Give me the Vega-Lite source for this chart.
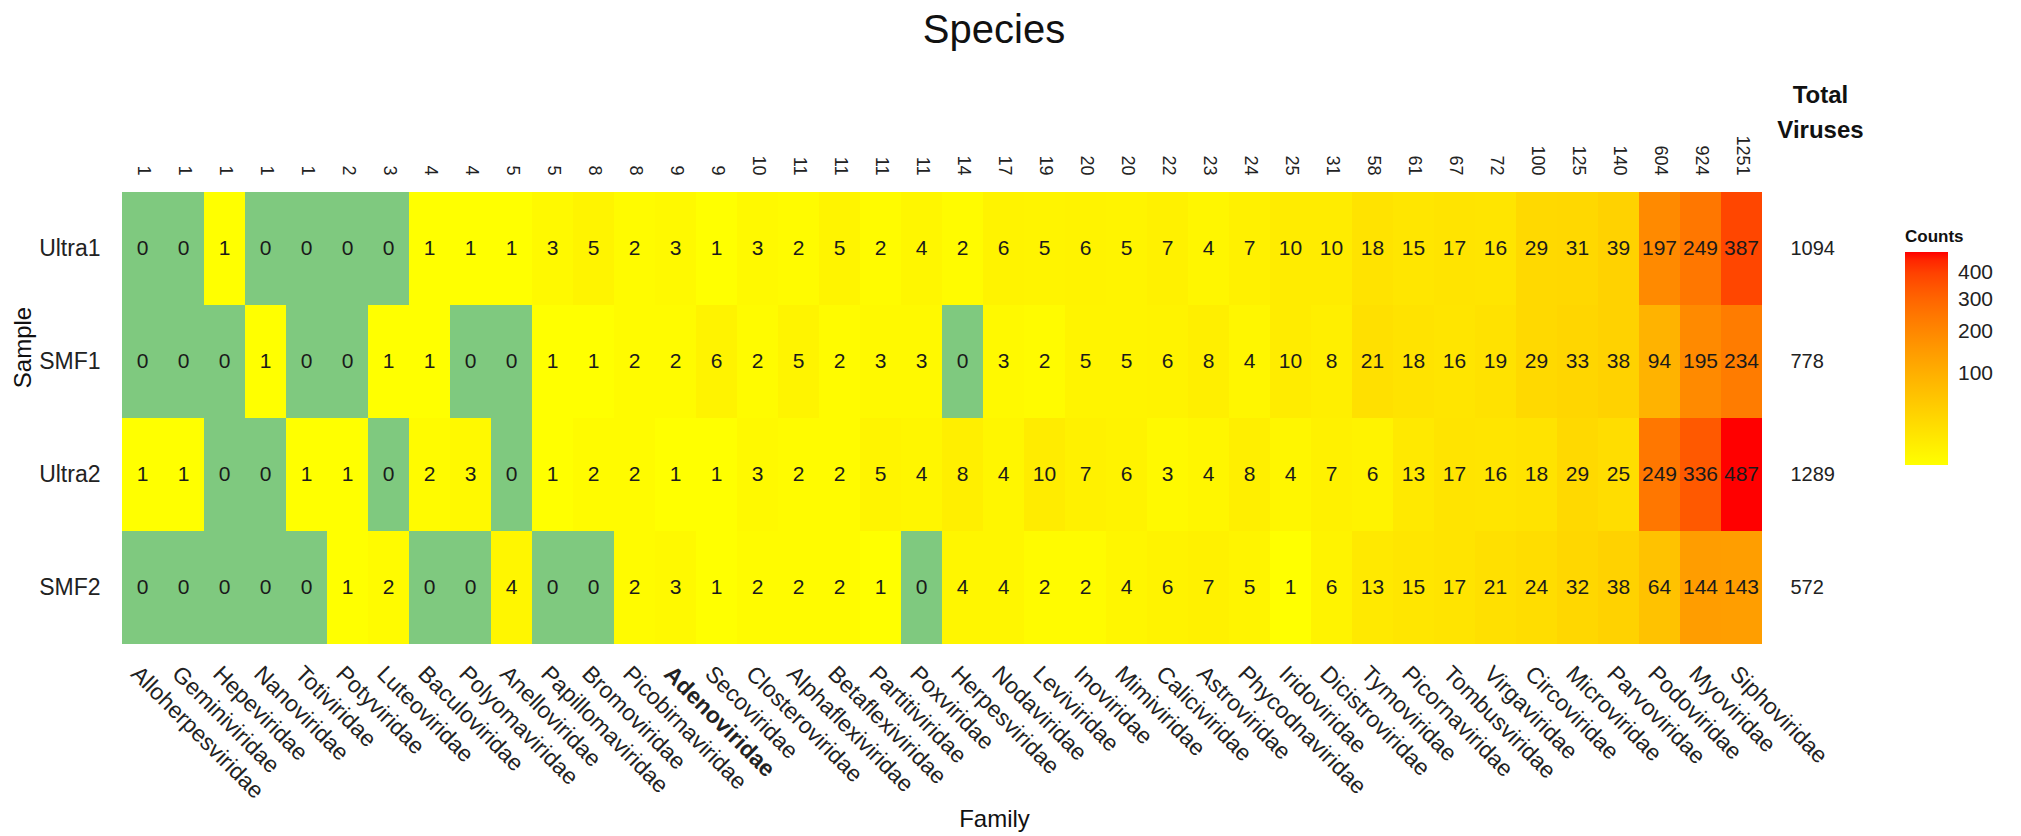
{
  "$schema": "https://vega.github.io/schema/vega-lite/v6.json",
  "width": 1640,
  "height": 452,
  "autosize": {"type": "none"},
  "padding": {"left": 122, "top": 192, "right": 259, "bottom": 192},
  "background": "white",
  "config": {
    "view": {"stroke": null},
    "font": "Liberation Sans",
    "axis": {"domain": false, "ticks": false, "grid": false, "labelFont": "Liberation Sans", "titleFont": "Liberation Sans", "labelColor": "#222222", "titleColor": "#111111", "titleFontWeight": "normal", "labelLimit": 0}
  },
  "title": {"text": "Species", "fontSize": 40, "fontWeight": "normal", "font": "Liberation Sans", "anchor": "middle", "frame": "group", "dx": 52, "offset": 32, "color": "#111111"},
  "data": {"values": [
    {"Sample":"Ultra1","Family":"Alloherpesviridae","Count":0},
    {"Sample":"Ultra1","Family":"Geminiviridae","Count":0},
    {"Sample":"Ultra1","Family":"Hepeviridae","Count":1},
    {"Sample":"Ultra1","Family":"Nanoviridae","Count":0},
    {"Sample":"Ultra1","Family":"Totiviridae","Count":0},
    {"Sample":"Ultra1","Family":"Potyviridae","Count":0},
    {"Sample":"Ultra1","Family":"Luteoviridae","Count":0},
    {"Sample":"Ultra1","Family":"Baculoviridae","Count":1},
    {"Sample":"Ultra1","Family":"Polyomaviridae","Count":1},
    {"Sample":"Ultra1","Family":"Anelloviridae","Count":1},
    {"Sample":"Ultra1","Family":"Papillomaviridae","Count":3},
    {"Sample":"Ultra1","Family":"Bromoviridae","Count":5},
    {"Sample":"Ultra1","Family":"Picobirnaviridae","Count":2},
    {"Sample":"Ultra1","Family":"Adenoviridae","Count":3},
    {"Sample":"Ultra1","Family":"Secoviridae","Count":1},
    {"Sample":"Ultra1","Family":"Closteroviridae","Count":3},
    {"Sample":"Ultra1","Family":"Alphaflexiviridae","Count":2},
    {"Sample":"Ultra1","Family":"Betaflexiviridae","Count":5},
    {"Sample":"Ultra1","Family":"Partitiviridae","Count":2},
    {"Sample":"Ultra1","Family":"Poxviridae","Count":4},
    {"Sample":"Ultra1","Family":"Herpesviridae","Count":2},
    {"Sample":"Ultra1","Family":"Nodaviridae","Count":6},
    {"Sample":"Ultra1","Family":"Leviviridae","Count":5},
    {"Sample":"Ultra1","Family":"Inoviridae","Count":6},
    {"Sample":"Ultra1","Family":"Mimiviridae","Count":5},
    {"Sample":"Ultra1","Family":"Caliciviridae","Count":7},
    {"Sample":"Ultra1","Family":"Astroviridae","Count":4},
    {"Sample":"Ultra1","Family":"Phycodnaviridae","Count":7},
    {"Sample":"Ultra1","Family":"Iridoviridae","Count":10},
    {"Sample":"Ultra1","Family":"Dicistroviridae","Count":10},
    {"Sample":"Ultra1","Family":"Tymoviridae","Count":18},
    {"Sample":"Ultra1","Family":"Picornaviridae","Count":15},
    {"Sample":"Ultra1","Family":"Tombusviridae","Count":17},
    {"Sample":"Ultra1","Family":"Virgaviridae","Count":16},
    {"Sample":"Ultra1","Family":"Circoviridae","Count":29},
    {"Sample":"Ultra1","Family":"Microviridae","Count":31},
    {"Sample":"Ultra1","Family":"Parvoviridae","Count":39},
    {"Sample":"Ultra1","Family":"Podoviridae","Count":197},
    {"Sample":"Ultra1","Family":"Myoviridae","Count":249},
    {"Sample":"Ultra1","Family":"Siphoviridae","Count":387},
    {"Sample":"SMF1","Family":"Alloherpesviridae","Count":0},
    {"Sample":"SMF1","Family":"Geminiviridae","Count":0},
    {"Sample":"SMF1","Family":"Hepeviridae","Count":0},
    {"Sample":"SMF1","Family":"Nanoviridae","Count":1},
    {"Sample":"SMF1","Family":"Totiviridae","Count":0},
    {"Sample":"SMF1","Family":"Potyviridae","Count":0},
    {"Sample":"SMF1","Family":"Luteoviridae","Count":1},
    {"Sample":"SMF1","Family":"Baculoviridae","Count":1},
    {"Sample":"SMF1","Family":"Polyomaviridae","Count":0},
    {"Sample":"SMF1","Family":"Anelloviridae","Count":0},
    {"Sample":"SMF1","Family":"Papillomaviridae","Count":1},
    {"Sample":"SMF1","Family":"Bromoviridae","Count":1},
    {"Sample":"SMF1","Family":"Picobirnaviridae","Count":2},
    {"Sample":"SMF1","Family":"Adenoviridae","Count":2},
    {"Sample":"SMF1","Family":"Secoviridae","Count":6},
    {"Sample":"SMF1","Family":"Closteroviridae","Count":2},
    {"Sample":"SMF1","Family":"Alphaflexiviridae","Count":5},
    {"Sample":"SMF1","Family":"Betaflexiviridae","Count":2},
    {"Sample":"SMF1","Family":"Partitiviridae","Count":3},
    {"Sample":"SMF1","Family":"Poxviridae","Count":3},
    {"Sample":"SMF1","Family":"Herpesviridae","Count":0},
    {"Sample":"SMF1","Family":"Nodaviridae","Count":3},
    {"Sample":"SMF1","Family":"Leviviridae","Count":2},
    {"Sample":"SMF1","Family":"Inoviridae","Count":5},
    {"Sample":"SMF1","Family":"Mimiviridae","Count":5},
    {"Sample":"SMF1","Family":"Caliciviridae","Count":6},
    {"Sample":"SMF1","Family":"Astroviridae","Count":8},
    {"Sample":"SMF1","Family":"Phycodnaviridae","Count":4},
    {"Sample":"SMF1","Family":"Iridoviridae","Count":10},
    {"Sample":"SMF1","Family":"Dicistroviridae","Count":8},
    {"Sample":"SMF1","Family":"Tymoviridae","Count":21},
    {"Sample":"SMF1","Family":"Picornaviridae","Count":18},
    {"Sample":"SMF1","Family":"Tombusviridae","Count":16},
    {"Sample":"SMF1","Family":"Virgaviridae","Count":19},
    {"Sample":"SMF1","Family":"Circoviridae","Count":29},
    {"Sample":"SMF1","Family":"Microviridae","Count":33},
    {"Sample":"SMF1","Family":"Parvoviridae","Count":38},
    {"Sample":"SMF1","Family":"Podoviridae","Count":94},
    {"Sample":"SMF1","Family":"Myoviridae","Count":195},
    {"Sample":"SMF1","Family":"Siphoviridae","Count":234},
    {"Sample":"Ultra2","Family":"Alloherpesviridae","Count":1},
    {"Sample":"Ultra2","Family":"Geminiviridae","Count":1},
    {"Sample":"Ultra2","Family":"Hepeviridae","Count":0},
    {"Sample":"Ultra2","Family":"Nanoviridae","Count":0},
    {"Sample":"Ultra2","Family":"Totiviridae","Count":1},
    {"Sample":"Ultra2","Family":"Potyviridae","Count":1},
    {"Sample":"Ultra2","Family":"Luteoviridae","Count":0},
    {"Sample":"Ultra2","Family":"Baculoviridae","Count":2},
    {"Sample":"Ultra2","Family":"Polyomaviridae","Count":3},
    {"Sample":"Ultra2","Family":"Anelloviridae","Count":0},
    {"Sample":"Ultra2","Family":"Papillomaviridae","Count":1},
    {"Sample":"Ultra2","Family":"Bromoviridae","Count":2},
    {"Sample":"Ultra2","Family":"Picobirnaviridae","Count":2},
    {"Sample":"Ultra2","Family":"Adenoviridae","Count":1},
    {"Sample":"Ultra2","Family":"Secoviridae","Count":1},
    {"Sample":"Ultra2","Family":"Closteroviridae","Count":3},
    {"Sample":"Ultra2","Family":"Alphaflexiviridae","Count":2},
    {"Sample":"Ultra2","Family":"Betaflexiviridae","Count":2},
    {"Sample":"Ultra2","Family":"Partitiviridae","Count":5},
    {"Sample":"Ultra2","Family":"Poxviridae","Count":4},
    {"Sample":"Ultra2","Family":"Herpesviridae","Count":8},
    {"Sample":"Ultra2","Family":"Nodaviridae","Count":4},
    {"Sample":"Ultra2","Family":"Leviviridae","Count":10},
    {"Sample":"Ultra2","Family":"Inoviridae","Count":7},
    {"Sample":"Ultra2","Family":"Mimiviridae","Count":6},
    {"Sample":"Ultra2","Family":"Caliciviridae","Count":3},
    {"Sample":"Ultra2","Family":"Astroviridae","Count":4},
    {"Sample":"Ultra2","Family":"Phycodnaviridae","Count":8},
    {"Sample":"Ultra2","Family":"Iridoviridae","Count":4},
    {"Sample":"Ultra2","Family":"Dicistroviridae","Count":7},
    {"Sample":"Ultra2","Family":"Tymoviridae","Count":6},
    {"Sample":"Ultra2","Family":"Picornaviridae","Count":13},
    {"Sample":"Ultra2","Family":"Tombusviridae","Count":17},
    {"Sample":"Ultra2","Family":"Virgaviridae","Count":16},
    {"Sample":"Ultra2","Family":"Circoviridae","Count":18},
    {"Sample":"Ultra2","Family":"Microviridae","Count":29},
    {"Sample":"Ultra2","Family":"Parvoviridae","Count":25},
    {"Sample":"Ultra2","Family":"Podoviridae","Count":249},
    {"Sample":"Ultra2","Family":"Myoviridae","Count":336},
    {"Sample":"Ultra2","Family":"Siphoviridae","Count":487},
    {"Sample":"SMF2","Family":"Alloherpesviridae","Count":0},
    {"Sample":"SMF2","Family":"Geminiviridae","Count":0},
    {"Sample":"SMF2","Family":"Hepeviridae","Count":0},
    {"Sample":"SMF2","Family":"Nanoviridae","Count":0},
    {"Sample":"SMF2","Family":"Totiviridae","Count":0},
    {"Sample":"SMF2","Family":"Potyviridae","Count":1},
    {"Sample":"SMF2","Family":"Luteoviridae","Count":2},
    {"Sample":"SMF2","Family":"Baculoviridae","Count":0},
    {"Sample":"SMF2","Family":"Polyomaviridae","Count":0},
    {"Sample":"SMF2","Family":"Anelloviridae","Count":4},
    {"Sample":"SMF2","Family":"Papillomaviridae","Count":0},
    {"Sample":"SMF2","Family":"Bromoviridae","Count":0},
    {"Sample":"SMF2","Family":"Picobirnaviridae","Count":2},
    {"Sample":"SMF2","Family":"Adenoviridae","Count":3},
    {"Sample":"SMF2","Family":"Secoviridae","Count":1},
    {"Sample":"SMF2","Family":"Closteroviridae","Count":2},
    {"Sample":"SMF2","Family":"Alphaflexiviridae","Count":2},
    {"Sample":"SMF2","Family":"Betaflexiviridae","Count":2},
    {"Sample":"SMF2","Family":"Partitiviridae","Count":1},
    {"Sample":"SMF2","Family":"Poxviridae","Count":0},
    {"Sample":"SMF2","Family":"Herpesviridae","Count":4},
    {"Sample":"SMF2","Family":"Nodaviridae","Count":4},
    {"Sample":"SMF2","Family":"Leviviridae","Count":2},
    {"Sample":"SMF2","Family":"Inoviridae","Count":2},
    {"Sample":"SMF2","Family":"Mimiviridae","Count":4},
    {"Sample":"SMF2","Family":"Caliciviridae","Count":6},
    {"Sample":"SMF2","Family":"Astroviridae","Count":7},
    {"Sample":"SMF2","Family":"Phycodnaviridae","Count":5},
    {"Sample":"SMF2","Family":"Iridoviridae","Count":1},
    {"Sample":"SMF2","Family":"Dicistroviridae","Count":6},
    {"Sample":"SMF2","Family":"Tymoviridae","Count":13},
    {"Sample":"SMF2","Family":"Picornaviridae","Count":15},
    {"Sample":"SMF2","Family":"Tombusviridae","Count":17},
    {"Sample":"SMF2","Family":"Virgaviridae","Count":21},
    {"Sample":"SMF2","Family":"Circoviridae","Count":24},
    {"Sample":"SMF2","Family":"Microviridae","Count":32},
    {"Sample":"SMF2","Family":"Parvoviridae","Count":38},
    {"Sample":"SMF2","Family":"Podoviridae","Count":64},
    {"Sample":"SMF2","Family":"Myoviridae","Count":144},
    {"Sample":"SMF2","Family":"Siphoviridae","Count":143}
  ]},
  "transform": [
    {"joinaggregate": [{"op": "sum", "field": "Count", "as": "FamilyTotal"}], "groupby": ["Family"]},
    {"joinaggregate": [{"op": "sum", "field": "Count", "as": "SampleTotal"}], "groupby": ["Sample"]},
    {"calculate": "datum.Family + '|' + datum.FamilyTotal", "as": "xkey"},
    {"calculate": "datum.Sample + '|' + datum.SampleTotal", "as": "ykey"}
  ],
  "resolve": {"axis": {"x": "independent", "y": "independent"}},
  "layer": [
    {
      "mark": {"type": "rect"},
      "encoding": {
        "x": {"field": "xkey", "type": "nominal", "sort": null,
          "scale": {"paddingInner": 0, "paddingOuter": 0},
          "axis": {"orient": "bottom", "labelExpr": "split(datum.value, '|')[0]", "labelAngle": 45, "labelAlign": "left", "labelBaseline": "top", "labelPadding": 18, "labelFontSize": 23,
            "labelFontWeight": {"condition": {"test": "split(datum.value, '|')[0] == 'Adenoviridae'", "value": "bold"}, "value": "normal"},
            "title": "Family", "titleFontSize": 24, "titleX": 872, "titleY": 175, "titleBaseline": "middle", "titleAlign": "center"}},
        "y": {"field": "ykey", "type": "nominal", "sort": null,
          "scale": {"paddingInner": 0, "paddingOuter": 0},
          "axis": {"orient": "left", "labelExpr": "split(datum.value, '|')[0]", "labelFontSize": 23, "labelPadding": 22,
            "title": "Sample", "titleFontSize": 24, "titleX": -99, "titleY": 155, "titleAngle": -90, "titleAlign": "center", "titleBaseline": "middle"}},
        "color": {
          "condition": {"test": "datum.Count == 0", "value": "#7FC97F"},
          "field": "Count", "type": "quantitative",
          "scale": {"type": "sqrt", "domain": [1, 487], "range": ["#FFFF00", "#FF0000"], "interpolate": "lab"},
          "legend": {"title": "Counts", "orient": "none", "legendX": 1783, "legendY": 37, "direction": "vertical",
            "values": [100, 200, 300, 400], "gradientLength": 213, "gradientThickness": 43, "gradientStrokeWidth": 0,
            "titleFontSize": 17, "titleFontWeight": "bold", "titleFont": "Liberation Sans", "titlePadding": 6, "titleColor": "#111111",
            "labelFontSize": 21, "labelFont": "Liberation Sans", "labelOffset": 10, "labelOverlap": false, "labelColor": "#222222"}
        }
      }
    },
    {
      "mark": {"type": "text", "fontSize": 21, "font": "Liberation Sans", "color": "#1a1a1a"},
      "encoding": {
        "x": {"field": "xkey", "type": "nominal", "sort": null,
          "axis": {"orient": "top", "labelExpr": "split(datum.value, '|')[1]", "labelAngle": 90, "labelAlign": "right", "labelBaseline": "middle", "labelPadding": 17, "labelFontSize": 18, "title": null}},
        "y": {"field": "ykey", "type": "nominal", "sort": null,
          "axis": {"orient": "right", "labelExpr": "split(datum.value, '|')[1]", "labelAlign": "left", "labelPadding": 28, "labelFontSize": 20,
            "title": ["Total", "Viruses"], "titleAngle": 0, "titleFontSize": 24, "titleFontWeight": "bold", "titleLineHeight": 35, "titleX": 58, "titleY": -97, "titleAlign": "center", "titleBaseline": "middle"}},
        "text": {"field": "Count", "type": "quantitative"}
      }
    }
  ]
}
